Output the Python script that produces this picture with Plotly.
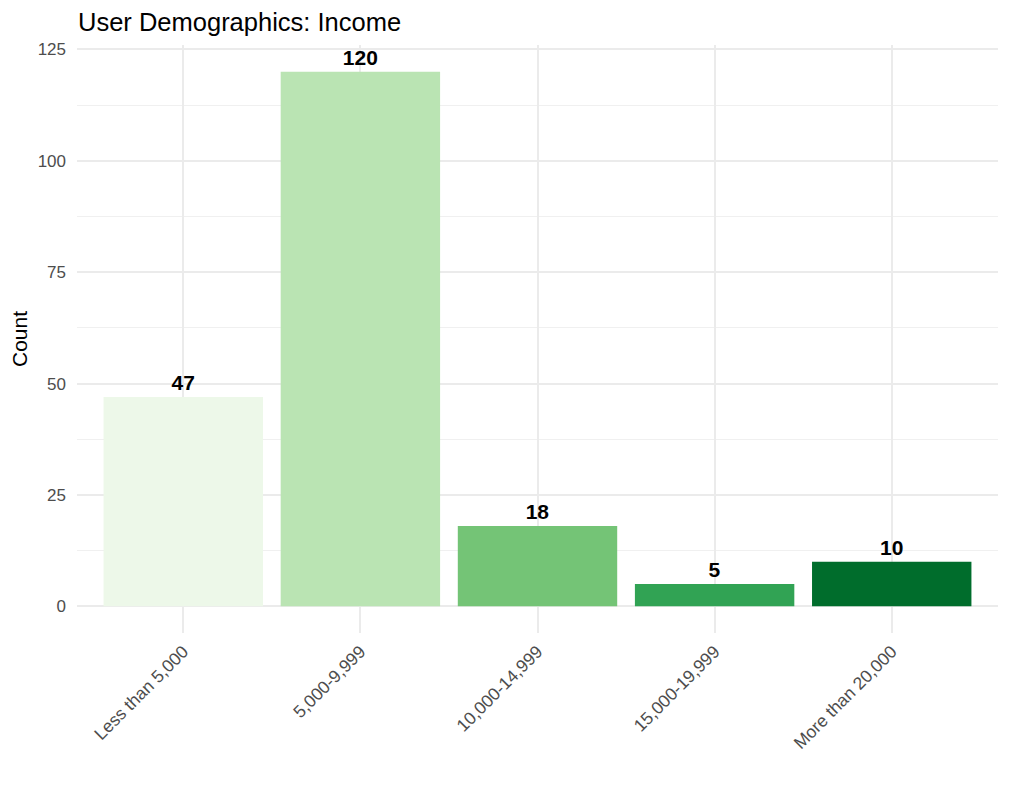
import plotly.graph_objects as go

categories = ["Less than 5,000", "5,000-9,999", "10,000-14,999", "15,000-19,999", "More than 20,000"]
counts = [47, 120, 18, 5, 10]
colors = ["#EDF8E9", "#BAE4B3", "#74C476", "#31A354", "#006D2C"]
y_ticks = [0, 25, 50, 75, 100, 125]
y_minor = [12.5, 37.5, 62.5, 87.5, 112.5]

fig = go.Figure()
fig.add_trace(go.Bar(
    x=categories, y=counts, marker=dict(color=colors, line=dict(width=0)),
    text=[str(c) for c in counts], textposition="outside",
    textfont=dict(family="Liberation Sans, Arial", size=21, color="black", weight="bold"),
    cliponaxis=False, width=0.9,
))

fig.update_layout(
    width=1009, height=793,
    margin=dict(l=69, r=19, t=37, b=168),
    plot_bgcolor="white", paper_bgcolor="white",
    font=dict(family="Liberation Sans, Arial", color="#4D4D4D", size=17),
    title=dict(text="User Demographics: Income", x=70/1009, xanchor="left", y=1-14/793, yanchor="middle",
               font=dict(size=25.5, color="black")),
    showlegend=False,
)
fig.update_xaxes(
    range=[-0.6, 4.6], showgrid=True, gridcolor="#EBEBEB", gridwidth=2,
    tickangle=-45, ticks="", zeroline=False, showline=False, automargin=False,
    tickfont=dict(size=17.5, color="#4D4D4D"), ticklabelstandoff=4,
)
fig.update_yaxes(
    range=[-6, 126], tickvals=y_ticks, showgrid=True, gridcolor="#EBEBEB", gridwidth=2,
    zeroline=False, showline=False, ticks="", automargin=False,
    tickfont=dict(size=17, color="#4D4D4D"), ticklabelstandoff=10,
    title=dict(text="Count", font=dict(size=21, color="black"), standoff=8),
    minor=dict(tickvals=y_minor, showgrid=True, gridcolor="#F0F0F0", gridwidth=1),
)

fig.write_html("out.html")
